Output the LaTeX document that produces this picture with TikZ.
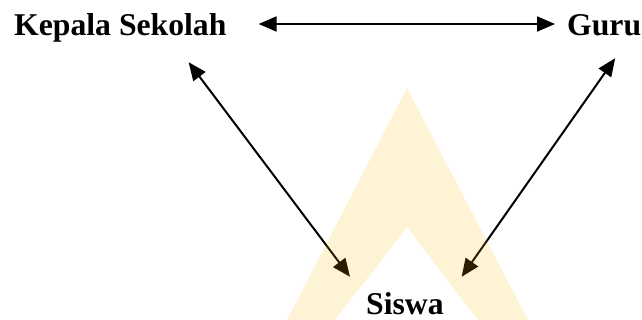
\documentclass[tikz,border=0pt]{standalone}
\usepackage{fontspec}
\setmainfont{Liberation Serif}
\usetikzlibrary{arrows.meta}
\definecolor{markgold}{RGB}{247,182,0}
\begin{document}
\begin{tikzpicture}[x=1pt,y=-1pt,
  partylabel/.style={inner sep=0pt,anchor=base west,text height=22pt,text depth=7pt,
    font=\fontsize{31.7}{38}\selectfont\bfseries},
  biarrow/.style={line width=2pt,
    {Triangle[length=18pt,width=15pt]}-{Triangle[length=18pt,width=15pt]}},
  chevronfill/.style={fill=markgold,fill opacity=0.17}]
  \useasboundingbox (0,0) rectangle (642,320);

  % the three parties
  \node[partylabel] (kepsek) at (14,36) {Kepala Sekolah};
  \node[partylabel] (guru)   at (567,36) {Guru};
  \node[partylabel,text depth=0pt] (siswa) at (366,314) {Siswa};

  % two-way relations
  \draw[biarrow] ([shift={(32,-4.5)}]kepsek.east) -- ([shift={(-12,-4.5)}]guru.west);
  \draw[biarrow] ([shift={(-38,19)}]kepsek.south east) -- ([shift={(-16,-15)}]siswa.north west);
  \draw[biarrow] ([shift={(11,15)}]guru.south) -- ([shift={(17.7,-15)}]siswa.north east);

  % faint chevron overlay
  \fill[chevronfill] (287,320) -- (407,88) -- (528,320) -- (478,320) -- (407,227) -- (335,320) -- cycle;
\end{tikzpicture}
\end{document}
